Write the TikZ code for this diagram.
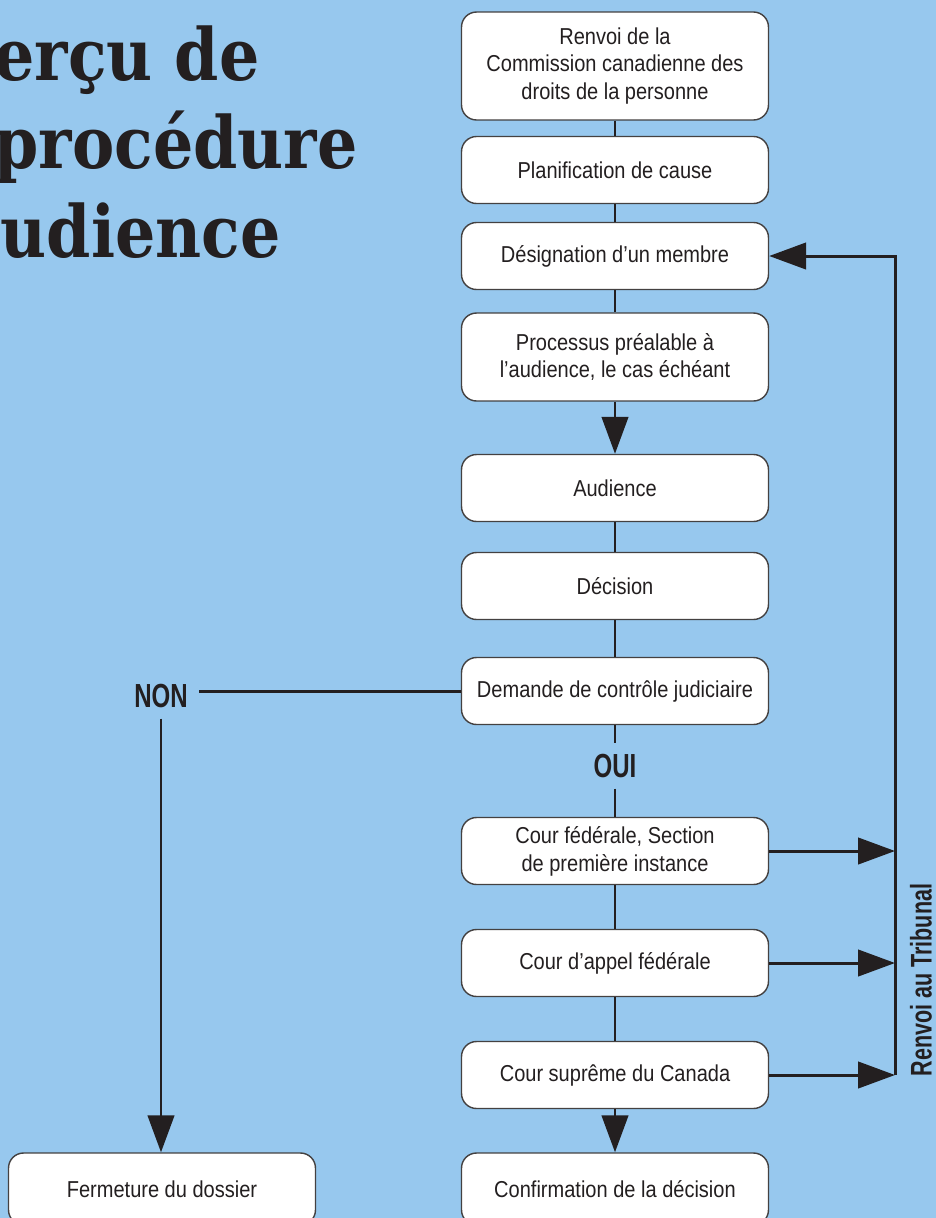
\documentclass[tikz,border=0pt]{standalone}
\usepackage{fontspec}
\usetikzlibrary{arrows.meta}
\setmainfont{Liberation Sans}
\newfontfamily\boxfont{Liberation Sans}[FakeStretch=0.87]
\newfontfamily\labelfont{Liberation Sans}[FakeStretch=0.72]
\newfontfamily\titlefont{DejaVu Serif}[FakeStretch=0.88]
\definecolor{skyback}{RGB}{151,200,238}
\definecolor{inkline}{RGB}{35,31,32}
\tikzset{
    stage/.style={draw=inkline!85, line width=0.8pt, fill=white, rounded corners=0.3cm,
        minimum width=6.14cm, minimum height=1.34cm, align=center, text=inkline,
        font=\boxfont\fontsize{13.1}{15.9}\selectfont},
    answer/.style={text=inkline, inner sep=6pt, font=\labelfont\bfseries\fontsize{19}{21}\selectfont},
    heading/.style={anchor=base east, inner sep=0pt, text=inkline, font=\titlefont\bfseries\fontsize{41}{50}\selectfont},
    link/.style={draw=inkline, line width=1.7pt},
    flow/.style={link, -{Triangle[length=21pt, width=15pt]}},
}

\begin{document}
\begin{tikzpicture}[x=0.02cm, y=-0.02cm]
    \clip (0,0) rectangle (936,1218);
    \fill[skyback] (0,0) rectangle (936,1218);

    % titre (coupe a gauche)
    \node[heading] (title1) at (260,80) {erçu de};
    \node[heading] (title2) at (358,168) {procédure};
    \node[heading] (title3) at (281,257) {udience};

    \node[stage, minimum height=2.16cm] (renvoi) at (615,66) {Renvoi de la\\Commission canadienne des\\droits de la personne};
    \node[stage] (planif) at (615,170) {Planification de cause};
    \node[stage] (design) at (615,256) {Désignation d’un membre};
    \node[stage, minimum height=1.76cm] (prealable) at (615,357) {Processus préalable à\\l’audience, le cas échéant};
    \node[stage] (audience) at (615,488) {Audience};
    \node[stage] (decision) at (615,586) {Décision};
    \node[stage] (demande) at (615,691) {Demande de contrôle judiciaire};
    \node[answer] (oui) at (615,766) {OUI};
    \node[answer] (non) at (161,696) {NON};
    \node[stage] (federale) at (615,851) {Cour fédérale, Section\\de première instance};
    \node[stage] (appel) at (615,963) {Cour d’appel fédérale};
    \node[stage] (supreme) at (615,1075) {Cour suprême du Canada};
    \node[stage, minimum height=1.44cm] (confirm) at (615,1189) {Confirmation de la décision};
    \node[stage, minimum height=1.44cm] (fermeture) at (162,1189) {Fermeture du dossier};
    \node[answer, rotate=90, font=\labelfont\bfseries\fontsize{17}{19}\selectfont] (tribunal) at (921,980) {Renvoi au Tribunal};

    \draw[link] (renvoi) -- (planif);
    \draw[link] (planif) -- (design);
    \draw[link] (design) -- (prealable);
    \draw[flow] (prealable) -- (audience);
    \draw[link] (audience) -- (decision);
    \draw[link] (decision) -- (demande);
    \draw[link] (demande) -- (oui);
    \draw[link] (oui) -- (federale);
    \draw[link] (federale) -- (appel);
    \draw[link] (appel) -- (supreme);
    \draw[flow] (supreme) -- (confirm);
    \draw[link] (demande.west) -- (demande.west -| non.east);
    \draw[flow] (non.south) -- (non.south |- fermeture.north);

    % renvoi au tribunal
    \coordinate (back) at (895,256);
    \foreach \court in {federale,appel,supreme}
        \draw[flow] (\court.east) -- (\court.east -| back);
    \draw[flow] (supreme.east -| back) -- (back) -- (design.east);
\end{tikzpicture}
\end{document}
